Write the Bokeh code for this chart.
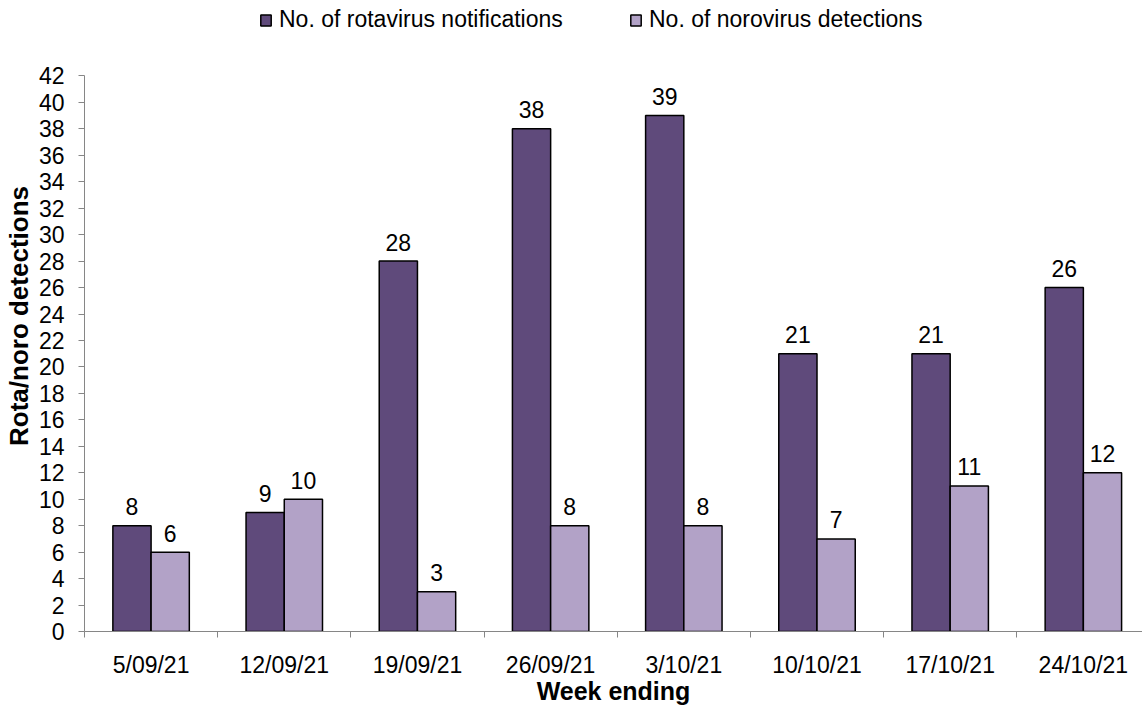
from bokeh.plotting import figure
from bokeh.models import (ColumnDataSource, Range1d, LinearAxis, FixedTicker,
                          Legend, LegendItem)
from bokeh.core.properties import value
from bokeh.embed import file_html
from bokeh.resources import INLINE

weeks = ["5/09/21", "12/09/21", "19/09/21", "26/09/21", "3/10/21",
         "10/10/21", "17/10/21", "24/10/21"]
rotavirus = [8, 9, 28, 38, 39, 21, 21, 26]
norovirus = [6, 10, 3, 8, 8, 7, 11, 12]
y_ticks = list(range(0, 43, 2))
Y_MAX = 42

ROTA = "#5F4A7B"
NORO = "#B2A2C7"
AXIS = "#868686"
FONT = "Liberation Sans"

idx = list(range(len(weeks)))
centers = [i + 0.5 for i in idx]
bounds = list(range(len(weeks) + 1))
bw = 0.287
src = ColumnDataSource(dict(
    xr=[c - bw / 2 for c in centers],
    xn=[c + bw / 2 for c in centers],
    rota=rotavirus, noro=norovirus,
    rlab=[str(v) for v in rotavirus],
    nlab=[str(v) for v in norovirus],
))

# frame reaches the top of the canvas so the legend can sit above the axis top
p = figure(width=1142, height=707, output_backend="svg", toolbar_location=None,
           x_range=Range1d(0, 7.944), y_range=Range1d(0, 47.7),
           x_axis_type=None, y_axis_type=None,
           min_border_left=83, min_border_right=0, min_border_top=0,
           min_border_bottom=75)
p.outline_line_color = None
p.xgrid.visible = False
p.ygrid.visible = False

r1 = p.vbar(x="xr", top="rota", width=bw, bottom=0, source=src,
            fill_color=ROTA, line_color="black", line_width=1.5)
r2 = p.vbar(x="xn", top="noro", width=bw, bottom=0, source=src,
            fill_color=NORO, line_color="black", line_width=1.5)

for xcol, ycol, tcol in (("xr", "rota", "rlab"), ("xn", "noro", "nlab")):
    p.text(x=xcol, y=ycol, text=tcol, source=src, text_align="center",
           text_baseline="alphabetic", y_offset=-19,
           text_font=value(FONT), text_font_size="23px", text_color="black")

# y axis (line and ticks stop at 42)
yax = LinearAxis(ticker=FixedTicker(ticks=y_ticks), bounds=(0, Y_MAX),
                 axis_label="Rota/noro detections")
yax.axis_line_color = AXIS
yax.major_tick_line_color = AXIS
yax.major_tick_out = 6
yax.major_tick_in = 0
yax.minor_tick_line_color = None
yax.major_label_standoff = 14
yax.major_label_text_font = FONT
yax.major_label_text_font_size = "23px"
yax.major_label_text_color = "black"
yax.axis_label_text_font = FONT
yax.axis_label_text_font_size = "26px"
yax.axis_label_text_font_style = "bold"
yax.axis_label_text_color = "black"
yax.axis_label_standoff = 2
p.add_layout(yax, "left")

# x axis: labels at category centres, tick marks at category boundaries
xax = LinearAxis(ticker=FixedTicker(ticks=centers, minor_ticks=bounds),
                 axis_label="Week ending")
xax.major_label_overrides = {c: w for c, w in zip(centers, weeks)}
xax.axis_line_color = AXIS
xax.major_tick_line_color = None
xax.major_tick_out = 0
xax.major_tick_in = 0
xax.minor_tick_line_color = AXIS
xax.minor_tick_out = 6
xax.minor_tick_in = 0
xax.major_label_standoff = 14
xax.major_label_text_font = FONT
xax.major_label_text_font_size = "23px"
xax.major_label_text_color = "black"
xax.axis_label_text_font = FONT
xax.axis_label_text_font_size = "25px"
xax.axis_label_text_font_style = "bold"
xax.axis_label_text_color = "black"
xax.axis_label_standoff = -4
p.add_layout(xax, "below")

legend = Legend(items=[
    LegendItem(label="No. of rotavirus notifications", renderers=[r1]),
    LegendItem(label="No. of norovirus detections", renderers=[r2]),
], orientation="horizontal", location=(175, 598))
legend.glyph_width = 13
legend.glyph_height = 14
legend.label_standoff = 7
legend.label_width = 319
legend.spacing = 31
legend.padding = 0
legend.margin = 0
legend.border_line_color = None
legend.background_fill_alpha = 0
legend.label_text_font = FONT
legend.label_text_font_size = "23px"
legend.label_text_color = "black"
p.add_layout(legend, "center")

open("out.html", "w").write(file_html(p, INLINE))
